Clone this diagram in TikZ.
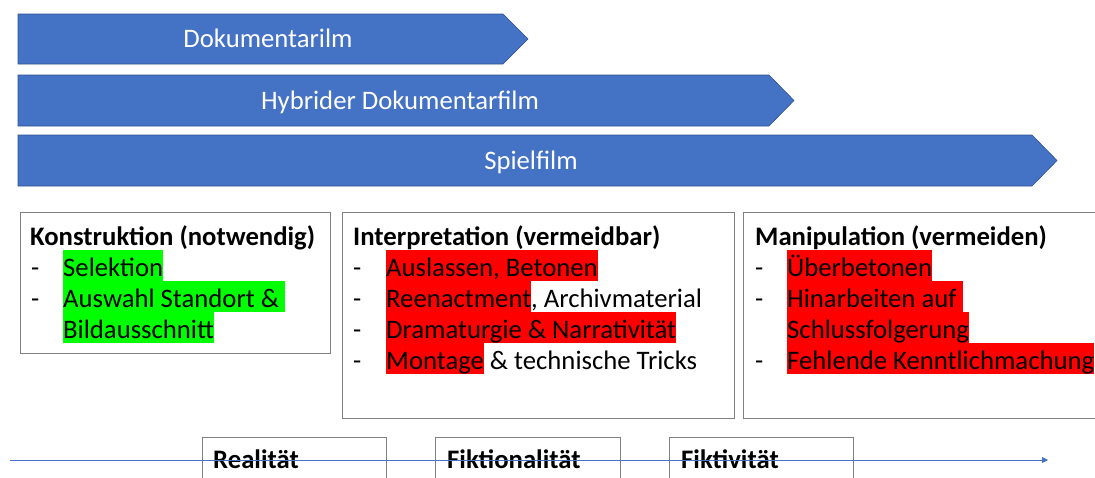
\documentclass[tikz,border=0pt]{standalone}
\usepackage{fontspec}
\setmainfont{Carlito}
\usetikzlibrary{arrows.meta}
\definecolor{bandblue}{RGB}{68,114,196}
\definecolor{banddark}{RGB}{47,82,143}
\definecolor{framegray}{RGB}{128,128,128}
\definecolor{hlgreen}{RGB}{0,255,0}
\definecolor{hlred}{RGB}{255,0,0}
% text marker: a full-line-height colour band behind the words
\newcommand\hlmark[2]{{\setlength{\fboxsep}{0pt}\colorbox{#1}{\rule[-5pt]{0pt}{31pt}#2}}}
\newcommand\bodysize{\fontsize{26.7}{31}\selectfont}

\begin{document}
\begin{tikzpicture}[x=1pt,y=-1pt,
  band/.style={fill=bandblue,draw=banddark,line width=0.6pt},
  bandlabel/.style={text=white,anchor=base,inner sep=0,font=\bodysize},
  frame/.style={draw=framegray,line width=1.1pt,fill=none,inner sep=0,anchor=north west},
  txt/.style={anchor=base west,inner sep=0,font=\bodysize},
  head/.style={anchor=base west,inner sep=0,font=\bodysize\bfseries},
  axis/.style={draw=bandblue,line width=0.9pt,-{Triangle[length=6pt,width=6pt]}},
]
\useasboundingbox (0,0) rectangle (1095,477);
\clip (0,0) rectangle (1095,477);

% film-type bands
\draw[band] (18,14) -- (503,14) -- (528,39) -- (503,64) -- (18,64) -- cycle;
\node[bandlabel] (doku) at (268,47.5) {Dokumentarilm};
\draw[band] (18,75) -- (769,75) -- (794,100.5) -- (769,126) -- (18,126) -- cycle;
\node[bandlabel] (hybrid) at (400,109) {Hybrider Dokumentarfilm};
\draw[band] (18,135) -- (1032,135) -- (1057,160.5) -- (1032,186) -- (18,186) -- cycle;
\node[bandlabel] (spiel) at (531,169) {Spielfilm};

% category frames
\node[frame,minimum width=310pt,minimum height=141pt] (konstr) at (20,212) {};
\node[frame,minimum width=392pt,minimum height=206pt] (interp) at (342,212) {};
\node[frame,minimum width=380pt,minimum height=206pt] (manip) at (743,212) {};

% Konstruktion
\node[head] (k0) at (30,245) {Konstruktion (notwendig)};
\node[txt] (k1d) at (31,276) {-};
\node[txt] (k1) at (63,276) {\hlmark{hlgreen}{Selektion}};
\node[txt] (k2d) at (31,307) {-};
\node[txt] (k2) at (63,307) {\hlmark{hlgreen}{Auswahl Standort \&\ }};
\node[txt] (k3) at (63,338) {\hlmark{hlgreen}{Bildausschnitt}};

% Interpretation
\node[head] (i0) at (353,245) {Interpretation (vermeidbar)};
\node[txt] (i1d) at (353,276) {-};
\node[txt] (i1) at (386,276) {\hlmark{hlred}{Auslassen, Betonen}};
\node[txt] (i2d) at (353,307) {-};
\node[txt] (i2) at (386,307) {\hlmark{hlred}{Reenactment}, Archivmaterial};
\node[txt] (i3d) at (353,338) {-};
\node[txt] (i3) at (386,338) {\hlmark{hlred}{Dramaturgie \& Narrativität}};
\node[txt] (i4d) at (353,369) {-};
\node[txt] (i4) at (386,369) {\hlmark{hlred}{Montage} \& technische Tricks};

% Manipulation
\node[head] (m0) at (755,245) {Manipulation (vermeiden)};
\node[txt] (m1d) at (755,276) {-};
\node[txt] (m1) at (787,276) {\hlmark{hlred}{Überbetonen}};
\node[txt] (m2d) at (755,307) {-};
\node[txt] (m2) at (787,307) {\hlmark{hlred}{Hinarbeiten auf\ }};
\node[txt] (m3) at (787,338) {\hlmark{hlred}{Schlussfolgerung}};
\node[txt] (m4d) at (755,369) {-};
\node[txt] (m4) at (787,369) {\hlmark{hlred}{Fehlende Kenntlichmachung}};

% scale from reality to fictivity
\node[frame,minimum width=184pt,minimum height=70pt] (real) at (202,437) {};
\node[frame,minimum width=185pt,minimum height=70pt] (fiktional) at (435,437) {};
\node[frame,minimum width=184pt,minimum height=70pt] (fiktiv) at (669,437) {};
\node[head] (realt) at (213,468) {Realität};
\node[head] (fiktionalt) at (447,468) {Fiktionalität};
\node[head] (fiktivt) at (681,468) {Fiktivität};
\coordinate (axstart) at (10,460);
\coordinate (axend) at (1048,460);
\draw[axis] (axstart) -- (axend);
\end{tikzpicture}
\end{document}
